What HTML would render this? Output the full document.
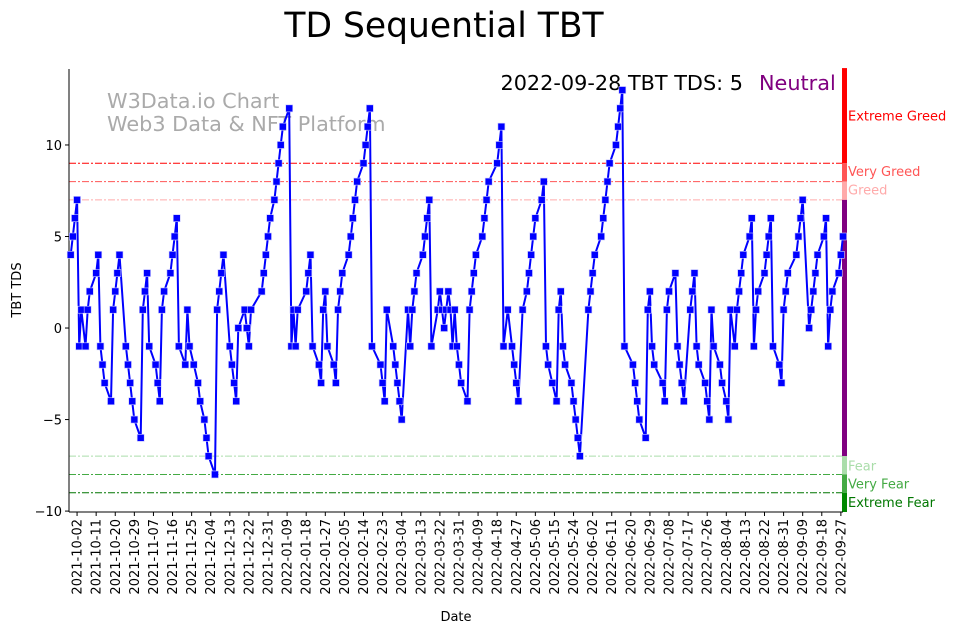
<!DOCTYPE html>
<html><head><meta charset="utf-8"><style>
body{margin:0;background:#fff;}
svg text{font-family:"DejaVu Sans","Liberation Sans",sans-serif;}
</style></head><body>
<svg id="chart" width="962" height="633" viewBox="0 0 962 633" xmlns="http://www.w3.org/2000/svg">
<text x="444" y="37" font-size="34.5" text-anchor="middle">TD Sequential TBT</text>
<text x="107" y="108" font-size="20.8" fill="#aaaaaa">W3Data.io Chart</text>
<text x="107" y="131" font-size="20.8" fill="#aaaaaa">Web3 Data &amp; NFT Platform</text>
<text x="743" y="90" font-size="20.8" text-anchor="end">2022-09-28 TBT TDS: 5</text>
<text x="759" y="90" font-size="20.8" fill="#800080">Neutral</text>
<g id="grid"></g><g id="axes"></g><g id="series"></g>
<text x="456" y="621" font-size="13" text-anchor="middle">Date</text>
<text transform="translate(21,290) rotate(-90)" font-size="13" text-anchor="middle">TBT TDS</text>
</svg>
<script>
const dayOffsets=[-3,-2,-1,0,1,2,4,5,6,9,10,11,12,13,16,17,18,19,20,23,24,25,26,27,30,31,32,33,34,37,38,39,40,41,44,45,46,47,48,51,52,53,55,57,58,60,61,62,65,66,67,68,69,72,73,74,75,76,79,80,81,82,87,88,89,90,91,93,94,95,96,97,100,101,102,103,104,108,109,110,111,114,115,116,117,118,121,122,123,124,125,128,129,130,131,132,135,136,137,138,139,143,144,145,146,149,150,151,152,153,156,157,158,159,160,163,164,165,166,167,170,171,172,173,174,175,176,177,178,179,180,181,184,185,186,187,188,191,192,193,194,198,199,200,201,203,205,206,207,208,210,212,213,214,215,216,219,220,221,222,224,226,227,228,229,230,233,234,235,236,237,241,242,243,244,247,248,249,250,251,254,255,256,257,258,262,263,264,265,268,269,270,271,272,276,277,278,279,282,283,284,285,286,289,290,291,292,293,296,297,298,299,300,303,304,306,307,308,310,311,312,313,314,317,318,319,320,321,324,325,326,327,328,331,332,333,334,335,339,340,341,342,345,346,347,348,349,352,353,354,355,356,359,360,361];
const tdsValues=[4,5,6,7,-1,1,-1,1,2,3,4,-1,-2,-3,-4,1,2,3,4,-1,-2,-3,-4,-5,-6,1,2,3,-1,-2,-3,-4,1,2,3,4,5,6,-1,-2,1,-1,-2,-3,-4,-5,-6,-7,-8,1,2,3,4,-1,-2,-3,-4,0,1,0,-1,1,2,3,4,5,6,7,8,9,10,11,12,-1,1,-1,1,2,3,4,-1,-2,-3,1,2,-1,-2,-3,1,2,3,4,5,6,7,8,9,10,11,12,-1,-2,-3,-4,1,-1,-2,-3,-4,-5,1,-1,1,2,3,4,5,6,7,-1,1,2,1,0,1,2,1,-1,1,-1,-2,-3,-4,1,2,3,4,5,6,7,8,9,10,11,-1,1,-1,-2,-3,-4,1,2,3,4,5,6,7,8,-1,-2,-3,-4,1,2,-1,-2,-3,-4,-5,-6,-7,1,2,3,4,5,6,7,8,9,10,11,12,13,-1,-2,-3,-4,-5,-6,1,2,-1,-2,-3,-4,1,2,3,-1,-2,-3,-4,1,2,3,-1,-2,-3,-4,-5,1,-1,-2,-3,-4,-5,1,-1,1,2,3,4,5,6,-1,1,2,3,4,5,6,-1,-2,-3,1,2,3,4,5,6,7,0,1,2,3,4,5,6,-1,1,2,3,4,5];
const yTicks=[-10,-5,0,5,10];
const levelValues=[9,8,7,-7,-8,-9];
const levelNames=["Extreme Greed","Very Greed","Greed","Fear","Very Fear","Extreme Fear"];
const levelColors=["#ff0000","#ff5555","#ffaaaa","#aaddaa","#44aa44","#007700"];
const zoneBounds=[14.2,9,8,7,-7,-8,-9,-10.05];
const zoneColors=["#ff0000","#ff5555","#ffaaaa","#800080","#aaddaa","#44aa44","#008800"];
const zoneLabelValues=[11.6,8.57,7.57,-7.5,-8.5,-9.5];
const tickStepDays=9, tickCount=41;

const NS="http://www.w3.org/2000/svg";
const X0=69,X1=843,Y0=69,Y1=512,dMin=-3.8,dMax=361,vMin=-10.05,vMax=14.15;
const xs=d=>X0+(d-dMin)/(dMax-dMin)*(X1-X0);
const ys=v=>Y1-(v-vMin)/(vMax-vMin)*(Y1-Y0);
function mk(tag,attrs,parent){const e=document.createElementNS(NS,tag);for(const k in attrs)e.setAttribute(k,attrs[k]);parent.appendChild(e);return e;}
const grid=document.getElementById('grid'),axes=document.getElementById('axes'),ser=document.getElementById('series');
levelValues.forEach((v,i)=>{
 const l=mk('line',{x1:X0,x2:X1,y1:ys(v),y2:ys(v),stroke:levelColors[i],'stroke-width':1,'stroke-dasharray':'7,2,2,2'},grid);
 
 
});
for(let i=0;i<zoneColors.length;i++){
 const r=mk('rect',{x:X1-1,y:ys(zoneBounds[i]),width:5,height:ys(zoneBounds[i+1])-ys(zoneBounds[i]),fill:zoneColors[i]},axes);
 
 
}
levelNames.forEach((n,i)=>{
 const t=mk('text',{x:848,y:ys(zoneLabelValues[i])+5,'font-size':13,fill:levelColors[i]},axes);t.textContent=n;
 
 
});
const ls=mk('line',{x1:X0,x2:X0,y1:Y0,y2:Y1,stroke:'#000','stroke-width':1},axes);


const bs=mk('line',{x1:X0,x2:X1,y1:Y1,y2:Y1,stroke:'#000','stroke-width':1},axes);


yTicks.forEach(v=>{
 mk('line',{x1:X0-4,x2:X0,y1:ys(v),y2:ys(v),stroke:'#000'},axes);
 const t=mk('text',{x:X0-7,y:ys(v)+5,'font-size':13,'text-anchor':'end'},axes);t.textContent=(v<0?'\u2212':'')+Math.abs(v);
 
 
});
const base=Date.UTC(2021,9,2);
for(let i=0;i<tickCount;i++){
 const d=i*tickStepDays,x=xs(d);
 mk('line',{x1:x,x2:x,y1:Y1,y2:Y1+4,stroke:'#000'},axes);
 const s=new Date(base+d*86400000).toISOString().slice(0,10);
 const t=mk('text',{transform:`translate(${x+4.5},${Y1+7}) rotate(-90)`,'font-size':13,'text-anchor':'end'},axes);t.textContent=s;
 
 
}
const n=Math.min(dayOffsets.length,tdsValues.length);
const pts=dayOffsets.slice(0,n).map((d,i)=>xs(d).toFixed(1)+','+ys(tdsValues[i]).toFixed(1)).join(' ');
const pl=mk('polyline',{points:pts,fill:'none',stroke:'#0000ff','stroke-width':2},ser);


dayOffsets.slice(0,n).forEach((d,i)=>{
 const r=mk('rect',{x:xs(d)-3.5,y:ys(tdsValues[i])-3.5,width:7,height:7,fill:'#0000ff',stroke:'#ccccff','stroke-width':0.6},ser);
 
 
});
</script>
</body></html>
